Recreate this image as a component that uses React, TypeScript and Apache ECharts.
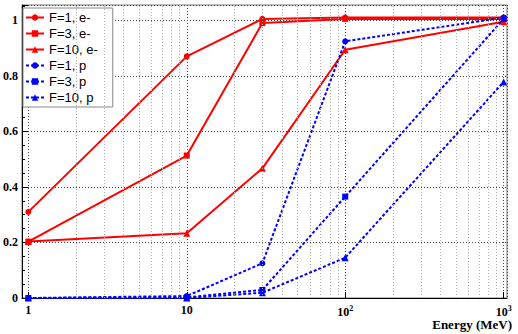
import React, { useEffect, useRef } from "react";
import * as echarts from "echarts";

const energies = [1, 10, 30, 100, 1000];
const f1E = [0.31, 0.87, 1.005, 1.01, 1.01];
const f3E = [0.203, 0.513, 0.99, 1.005, 1.005];
const f10E = [0.203, 0.233, 0.467, 0.894, 0.995];
const f1P = [0, 0.007, 0.125, 0.924, 1.01];
const f3P = [0, 0.002, 0.029, 0.365, 1.005];
const f10P = [0, 0, 0.019, 0.145, 0.778];
const seriesNames = ["F=1, e-", "F=3, e-", "F=10, e-", "F=1, p", "F=3, p", "F=10, p"];
const minorX = [2, 3, 4, 5, 6, 7, 8, 9, 20, 30, 40, 50, 60, 70, 80, 90, 200, 300, 400, 500, 600, 700, 800, 900];
const xTickLabels: Record<number, string> = { 1: "1", 10: "10", 100: "10{sup|2}", 1000: "10{sup|3}" };

const SERIF = "'Liberation Serif', 'Times New Roman', serif";
const SANS = "'Liberation Sans', Arial, sans-serif";

function pairs(ys: number[]) {
  return energies.map((x, i) => [x, ys[i]]);
}

export default function App() {
  const ref = useRef<HTMLDivElement>(null);
  useEffect(() => {
    document.body.style.margin = "0";
    const chart = echarts.init(ref.current!, null, { renderer: "svg" });
    const red = "#ff0000";
    const blue = "#0000ff";
    const mk = (name: string, ys: number[], color: string, symbol: string, dashed: boolean) => ({
      name,
      type: "line",
      data: pairs(ys),
      symbol,
      symbolSize: symbol === "triangle" ? 7 : 6,
      itemStyle: { color },
      lineStyle: { color, width: 2, type: dashed ? [3, 2] : "solid" },
      z: 3,
    });
    chart.setOption({
      animation: false,
      grid: { left: 22, top: 5, width: 485, height: 293, show: true, borderColor: "#777", borderWidth: 1 },
      legend: {
        data: seriesNames,
        orient: "vertical",
        left: 23,
        top: 8,
        itemWidth: 18,
        itemHeight: 8,
        itemGap: 3,
        padding: [3, 15, 3, 2],
        backgroundColor: "#fff",
        borderColor: "#888",
        borderWidth: 1,
        textStyle: { fontFamily: SANS, fontSize: 13, color: "#000" },
      },
      xAxis: {
        type: "log",
        logBase: 10,
        min: 0.912,
        max: 1050,
        axisLine: { show: true, lineStyle: { color: "#000", width: 1 } },
        axisTick: { show: true, inside: true, length: 6, lineStyle: { color: "#000" } },
        axisLabel: {
          showMinLabel: false,
          showMaxLabel: false,
          margin: 6,
          fontFamily: SERIF,
          fontWeight: "bold",
          fontSize: 12,
          color: "#000",
          formatter: (v: number) => xTickLabels[Math.round(v)] && Math.abs(v - Math.round(v)) < 1e-6 ? xTickLabels[Math.round(v)] : "",
          rich: { sup: { fontSize: 8, fontFamily: SERIF, fontWeight: "bold", padding: [0, 0, 7, 0] } },
        },
        splitLine: { show: true, lineStyle: { color: "#444", type: [1, 2], width: 1 } },
      },
      yAxis: {
        type: "value",
        min: 0,
        max: 1.055,
        interval: 0.2,
        axisLine: { show: true, lineStyle: { color: "#000", width: 1 } },
        axisTick: { show: true, inside: true, length: 6, lineStyle: { color: "#000" } },
        minorTick: { show: true, splitNumber: 4, length: 3, lineStyle: { color: "#000" } },
        axisLabel: {
          showMaxLabel: false,
          margin: 4,
          fontFamily: SERIF,
          fontWeight: "bold",
          fontSize: 12,
          color: "#000",
        },
        splitLine: { show: true, lineStyle: { color: "#444", type: [1, 2], width: 1 } },
      },
      graphic: [
        {
          type: "text",
          right: 6,
          top: 318,
          style: { text: "Energy (MeV)", font: `bold 13px ${SERIF}`, fill: "#000" },
        },
      ],
      series: [
        {
          name: "minor",
          type: "line",
          data: [],
          z: 1,
          silent: true,
          markLine: {
            silent: true,
            symbol: "none",
            label: { show: false },
            lineStyle: { color: "#aaa", type: [1, 2], width: 1 },
            data: minorX.map((x) => ({ xAxis: x })),
          },
        },
        mk(seriesNames[0], f1E, red, "circle", false),
        mk(seriesNames[1], f3E, red, "rect", false),
        mk(seriesNames[2], f10E, red, "triangle", false),
        mk(seriesNames[3], f1P, blue, "circle", true),
        mk(seriesNames[4], f3P, blue, "rect", true),
        mk(seriesNames[5], f10P, blue, "triangle", true),
      ],
    });
    return () => chart.dispose();
  }, []);
  return <div ref={ref} style={{ width: 518, height: 334 }} />;
}
